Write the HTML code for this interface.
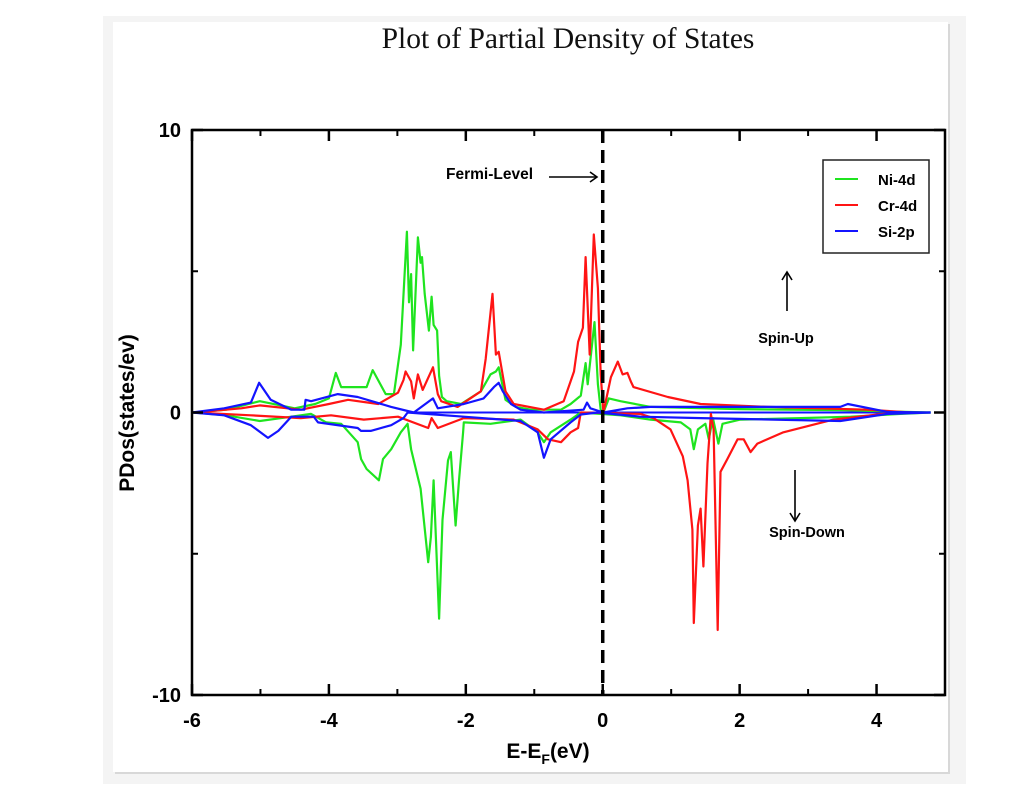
<!DOCTYPE html>
<html><head><meta charset="utf-8"><style>
html,body{margin:0;padding:0;background:#fff;}
svg{display:block;}
</style></head><body>
<svg id="chart" width="1019" height="803" xmlns="http://www.w3.org/2000/svg">
  <rect x="103" y="16" width="863" height="768" fill="#f4f4f4"/>
  <rect x="115" y="24" width="835" height="750" fill="#d8d8d8"/>
  <rect x="113" y="22" width="835" height="750" fill="#fff"/>
  <text x="568" y="48" text-anchor="middle" font-family="Liberation Serif, serif" font-size="29.5" fill="#111">Plot of Partial Density of States</text>
  <g id="plot"></g>
</svg>
<script>
const niUp=[[-5.97,0],[-5.5,0.1],[-5.01,0.4],[-4.5,0.15],[-4.2,0.3],[-4.0,0.5],[-3.9,1.4],[-3.82,0.9],[-3.45,0.9],[-3.36,1.5],[-3.17,0.65],[-3.05,0.65],[-2.95,2.4],[-2.86,6.4],[-2.83,3.9],[-2.80,4.9],[-2.77,2.2],[-2.70,6.2],[-2.66,5.3],[-2.64,5.5],[-2.60,4.2],[-2.54,2.9],[-2.50,4.1],[-2.47,3.1],[-2.42,2.9],[-2.39,1.3],[-2.35,0.55],[-2.28,0.4],[-2.07,0.3],[-1.78,0.75],[-1.64,1.35],[-1.56,1.45],[-1.52,1.6],[-1.42,0.45],[-1.27,0.2],[-1.05,0.1],[-0.61,0.1],[-0.47,0.3],[-0.32,0.6],[-0.25,1.75],[-0.22,1.0],[-0.12,3.2],[-0.07,1.0],[-0.03,0.1],[0.01,0],[0.09,0.5],[0.26,0.4],[0.70,0.2],[2.0,0.12],[3.5,0.08],[4.79,0]];
const niDn=[[-5.97,0],[-5.5,-0.1],[-5.01,-0.3],[-4.55,-0.15],[-4.26,-0.05],[-4.04,-0.35],[-3.82,-0.4],[-3.58,-1.05],[-3.53,-1.65],[-3.45,-2.0],[-3.27,-2.4],[-3.21,-1.65],[-3.09,-1.3],[-2.95,-0.7],[-2.85,-0.4],[-2.80,-1.3],[-2.66,-2.7],[-2.55,-5.3],[-2.51,-4.4],[-2.47,-2.4],[-2.39,-7.3],[-2.34,-3.8],[-2.26,-1.7],[-2.22,-1.4],[-2.15,-4.0],[-2.10,-2.4],[-2.04,-0.7],[-2.03,-0.35],[-1.64,-0.4],[-1.20,-0.25],[-0.95,-0.7],[-0.86,-1.05],[-0.76,-0.7],[-0.47,-0.25],[-0.32,0],[0.26,-0.1],[0.70,-0.25],[1.14,-0.35],[1.28,-0.6],[1.33,-1.3],[1.39,-0.6],[1.50,-0.4],[1.55,-0.95],[1.61,-0.2],[1.69,-1.1],[1.75,-0.4],[2.01,-0.25],[2.89,-0.2],[3.62,-0.15],[4.35,-0.05],[4.79,0]];
const crUp=[[-5.97,0],[-5.28,0.15],[-5.01,0.25],[-4.41,0.1],[-4.0,0.3],[-3.72,0.45],[-3.28,0.3],[-2.99,0.7],[-2.91,1.15],[-2.88,1.45],[-2.80,1.1],[-2.76,0.5],[-2.70,1.35],[-2.63,0.8],[-2.48,1.6],[-2.41,0.65],[-2.36,0.4],[-2.12,0.2],[-1.78,0.75],[-1.71,1.9],[-1.61,4.2],[-1.56,2.05],[-1.52,2.15],[-1.42,0.75],[-1.30,0.3],[-0.86,0.1],[-0.57,0.4],[-0.42,1.45],[-0.36,2.5],[-0.29,3.0],[-0.25,5.5],[-0.19,2.05],[-0.13,6.3],[-0.07,4.4],[-0.03,1.35],[0.01,0],[0.12,1.25],[0.22,1.8],[0.29,1.35],[0.36,1.4],[0.41,1.1],[0.45,0.9],[0.95,0.55],[1.43,0.3],[2.41,0.2],[3.87,0.1],[4.5,0]];
const crDn=[[-5.97,0],[-5.14,-0.1],[-4.41,-0.2],[-3.97,-0.1],[-3.49,-0.25],[-2.99,-0.15],[-2.55,-0.55],[-2.50,-0.2],[-2.41,-0.55],[-2.03,-0.2],[-1.30,-0.25],[-0.95,-0.6],[-0.80,-0.95],[-0.61,-1.05],[-0.47,-0.7],[-0.36,-0.55],[-0.32,0],[0.55,-0.05],[0.74,-0.2],[0.99,-0.6],[1.17,-1.55],[1.24,-2.4],[1.31,-4.15],[1.33,-7.45],[1.39,-4.0],[1.43,-3.4],[1.47,-5.45],[1.53,-1.8],[1.58,-0.05],[1.62,-0.6],[1.68,-7.7],[1.72,-2.1],[1.82,-1.65],[1.97,-0.95],[2.06,-0.95],[2.16,-1.4],[2.26,-1.1],[2.64,-0.7],[3.37,-0.25],[4.10,-0.05],[4.5,0]];
const siUp=[[-6.0,0],[-5.53,0.15],[-5.14,0.35],[-5.02,1.05],[-4.85,0.45],[-4.55,0.1],[-4.36,0.1],[-4.34,0.45],[-4.26,0.4],[-3.87,0.65],[-3.58,0.55],[-3.09,0.2],[-2.76,0],[-2.48,0.5],[-2.41,0.15],[-2.03,0.3],[-1.74,0.5],[-1.59,0.9],[-1.52,1.05],[-1.46,0.75],[-1.34,0.3],[-1.20,0.1],[-0.86,0],[-0.28,0.1],[-0.23,0.35],[-0.18,0.15],[0.01,0],[0.36,0.15],[0.70,0.2],[3.47,0.2],[3.58,0.3],[4.16,0.02],[4.79,0]];
const siDn=[[-6.0,0],[-5.53,-0.1],[-5.14,-0.45],[-4.89,-0.9],[-4.74,-0.65],[-4.55,-0.15],[-4.22,-0.15],[-4.16,-0.35],[-3.58,-0.55],[-3.53,-0.65],[-3.39,-0.65],[-3.09,-0.45],[-2.91,-0.2],[-2.85,0],[-2.03,-0.15],[-1.20,-0.3],[-0.95,-0.7],[-0.86,-1.6],[-0.76,-0.95],[-0.47,-0.35],[-0.32,-0.07],[-0.07,0],[0.55,-0.15],[1.43,-0.2],[3.47,-0.3],[4.16,-0.05],[4.79,0]];
const xTicks=[-6,-4,-2,0,2,4];
const yTicks=[10,0,-10];
const xMinor=[-5,-3,-1,1,3];
const yMinor=[5,-5];

const NS='http://www.w3.org/2000/svg';
const L=192,R=945,T=130,B=695;
const X0=-6,X1=5,Y0=-10,Y1=10;
function sx(v){return L+(v-X0)/(X1-X0)*(R-L);}
function sy(v){return B-(v-Y0)/(Y1-Y0)*(B-T);}
const g=document.getElementById('plot');
function mk(tag,attrs,parent){const e=document.createElementNS(NS,tag);for(const k in attrs)e.setAttribute(k,attrs[k]);(parent||g).appendChild(e);return e;}

const series=[['ni-4d-spin-up',niUp,'#1fe41f'],['ni-4d-spin-down',niDn,'#1fe41f'],['cr-4d-spin-up',crUp,'#ff1414'],['cr-4d-spin-down',crDn,'#ff1414'],['si-2p-spin-up',siUp,'#1414ff'],['si-2p-spin-down',siDn,'#1414ff']];
const base=mk('line',{x1:sx(-2.85),y1:sy(0),x2:sx(4.79),y2:sy(0),stroke:'#1414ff','stroke-width':2});


for(const s of series){
  const p=mk('polyline',{points:s[1].map(d=>sx(d[0]).toFixed(1)+','+sy(d[1]).toFixed(1)).join(' '),fill:'none',stroke:s[2],'stroke-width':2.2,'stroke-linejoin':'round'});
  
  
}
const fl=mk('line',{x1:sx(0),y1:T,x2:sx(0),y2:B,stroke:'#000','stroke-width':3.5,'stroke-dasharray':'13,7'});


const fr=mk('rect',{x:L,y:T,width:R-L,height:B-T,fill:'none',stroke:'#000','stroke-width':2.5});


for(const t of xTicks){
  const x=sx(t);
  mk('line',{x1:x,y1:B,x2:x,y2:B-11,stroke:'#000','stroke-width':2.5});
  mk('line',{x1:x,y1:T,x2:x,y2:T+11,stroke:'#000','stroke-width':2.5});
  const tx=mk('text',{x:x,y:727,'text-anchor':'middle','font-family':'Liberation Sans, sans-serif','font-size':20,'font-weight':'bold'});
  tx.textContent=t;
  
  
}
for(const t of xMinor){
  const x=sx(t);
  mk('line',{x1:x,y1:B,x2:x,y2:B-6,stroke:'#000','stroke-width':2});
  mk('line',{x1:x,y1:T,x2:x,y2:T+6,stroke:'#000','stroke-width':2});
}
for(const t of yTicks){
  const y=sy(t);
  mk('line',{x1:L,y1:y,x2:L+11,y2:y,stroke:'#000','stroke-width':2.5});
  mk('line',{x1:R,y1:y,x2:R-11,y2:y,stroke:'#000','stroke-width':2.5});
  const tx=mk('text',{x:181,y:y+7,'text-anchor':'end','font-family':'Liberation Sans, sans-serif','font-size':20,'font-weight':'bold'});
  tx.textContent=t;
  
  
}
for(const t of yMinor){
  const y=sy(t);
  mk('line',{x1:L,y1:y,x2:L+6,y2:y,stroke:'#000','stroke-width':2});
  mk('line',{x1:R,y1:y,x2:R-6,y2:y,stroke:'#000','stroke-width':2});
}
</script>
<svg style="position:absolute;left:0;top:0" width="1019" height="803" xmlns="http://www.w3.org/2000/svg">
  <text transform="translate(134,413) rotate(-90)" text-anchor="middle" font-family="Liberation Sans, sans-serif" font-size="21" font-weight="bold">PDos(states/ev)</text>
  <text x="548" y="758" text-anchor="middle" font-family="Liberation Sans, sans-serif" font-size="21" font-weight="bold">E-E<tspan font-size="14" dy="6">F</tspan><tspan dy="-6">(eV)</tspan></text>
  <text x="446" y="179" font-family="Liberation Sans, sans-serif" font-size="15.5" font-weight="bold">Fermi-Level</text>
  <g stroke="#000" stroke-width="1.6" fill="none">
    <line x1="549" y1="177" x2="597" y2="177"/><polyline points="590,172 597,177 590,182"/>
  </g>
  <g stroke="#000" stroke-width="1.6" fill="none">
    <line x1="787" y1="311" x2="787" y2="272"/><polyline points="782,280 787,272 792,280"/>
  </g>
  <text x="786" y="343" text-anchor="middle" font-family="Liberation Sans, sans-serif" font-size="14.5" font-weight="bold">Spin-Up</text>
  <g stroke="#000" stroke-width="1.6" fill="none">
    <line x1="795" y1="470" x2="795" y2="521"/><polyline points="790,513 795,521 800,513"/>
  </g>
  <text x="807" y="537" text-anchor="middle" font-family="Liberation Sans, sans-serif" font-size="14.5" font-weight="bold">Spin-Down</text>
  <g>
    <rect x="823" y="160" width="106" height="93" fill="#fff" stroke="#222" stroke-width="1.5"/>
    <g><line x1="835" y1="179" x2="858" y2="179" stroke="#1fe41f" stroke-width="2"/><text x="878" y="185" font-family="Liberation Sans, sans-serif" font-size="15" font-weight="bold">Ni-4d</text></g>
    <g><line x1="835" y1="205" x2="858" y2="205" stroke="#ff1414" stroke-width="2"/><text x="878" y="211" font-family="Liberation Sans, sans-serif" font-size="15" font-weight="bold">Cr-4d</text></g>
    <g><line x1="835" y1="231" x2="858" y2="231" stroke="#1414ff" stroke-width="2"/><text x="878" y="237" font-family="Liberation Sans, sans-serif" font-size="15" font-weight="bold">Si-2p</text></g>
  </g>
</svg>
</body></html>
